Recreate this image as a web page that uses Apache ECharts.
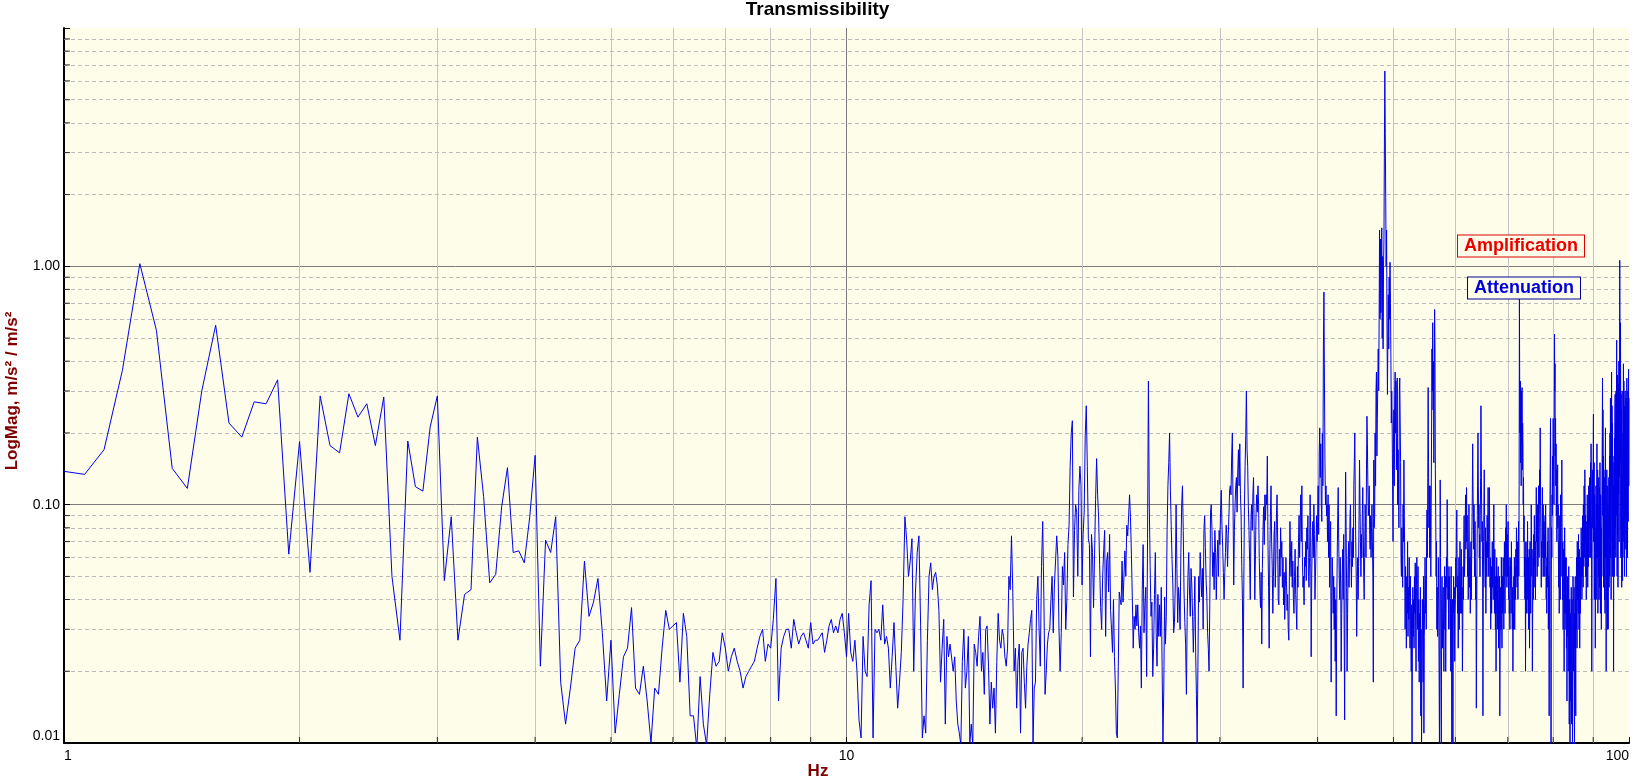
<!DOCTYPE html>
<html><head><meta charset="utf-8">
<script src="https://cdn.jsdelivr.net/npm/echarts@6/dist/echarts.min.js"></script>
<style>html,body{margin:0;padding:0;background:#fff}#chart{width:1635px;height:780px}</style>
</head><body><div id="chart"></div>
<script>
// ---------------- DATA ----------------
const TITLE = 'Transmissibility';
const X_NAME = 'Hz';
const Y_NAME = 'LogMag, m/s\u00b2 / m/s\u00b2';
const LEGEND_AMP = 'Amplification';
const LEGEND_ATT = 'Attenuation';
const X_MIN = 1, X_MAX = 100;
const Y_MIN = 0.01, Y_MAX = 10;
const MINOR_MULT = [2, 3, 4, 5, 6, 7, 8, 9];
const X_DECADES = [1, 10];
const Y_DECADES = [0.01, 0.1, 1];
const FREQ_STEP = 0.0625;   // spectral line spacing, Hz
// each row holds the magnitudes of one 1-Hz band, starting at its row start frequency
const ROW_START_1 = 1;
const mag1to10 = [
[0.138,0.134,0.170,0.366,1.026,0.539,0.142,0.117,0.300,0.566,0.220,0.192,0.270,0.265,0.334,0.062],
[0.184,0.052,0.286,0.177,0.165,0.292,0.233,0.265,0.177,0.283,0.050,0.027,0.185,0.119,0.114,0.212],
[0.286,0.048,0.089,0.027,0.042,0.044,0.192,0.108,0.047,0.051,0.098,0.143,0.063,0.064,0.057,0.089],
[0.161,0.021,0.071,0.063,0.089,0.018,0.012,0.017,0.025,0.027,0.058,0.034,0.039,0.049,0.029,0.015],
[0.027,0.011,0.016,0.023,0.025,0.037,0.017,0.016,0.021,0.015,0.010,0.017,0.016,0.025,0.036,0.030],
[0.031,0.032,0.018,0.035,0.028,0.013,0.013,0.0095,0.019,0.012,0.0098,0.016,0.024,0.021,0.022,0.029],
[0.025,0.020,0.023,0.025,0.022,0.020,0.017,0.019,0.020,0.021,0.022,0.025,0.028,0.030,0.022,0.026],
[0.025,0.033,0.049,0.015,0.025,0.028,0.030,0.030,0.025,0.033,0.029,0.026,0.028,0.029,0.027,0.025],
[0.032,0.026,0.027,0.027,0.028,0.029,0.024,0.027,0.031,0.033,0.029,0.031,0.029,0.033,0.035,0.029]
];
const ROW_START_2 = 10;
const mag10to35 = [
[0.023,0.035,0.024,0.022,0.027,0.020,0.0125,0.0105,0.028,0.020,0.019,0.038,0.048,0.0105,0.030,0.029],
[0.030,0.027,0.038,0.026,0.028,0.025,0.017,0.023,0.032,0.021,0.014,0.018,0.024,0.040,0.089,0.071],
[0.050,0.058,0.072,0.020,0.043,0.063,0.074,0.031,0.0105,0.013,0.011,0.027,0.050,0.057,0.044,0.050],
[0.052,0.046,0.036,0.018,0.025,0.033,0.012,0.028,0.023,0.026,0.026,0.020,0.023,0.015,0.012,0.011],
[0.0098,0.022,0.030,0.017,0.020,0.028,0.010,0.012,0.0098,0.026,0.024,0.021,0.028,0.034,0.020,0.024],
[0.016,0.030,0.031,0.021,0.012,0.018,0.014,0.017,0.011,0.022,0.035,0.027,0.025,0.030,0.028,0.023],
[0.021,0.025,0.050,0.044,0.074,0.043,0.020,0.025,0.014,0.022,0.026,0.011,0.024,0.025,0.018,0.014],
[0.021,0.026,0.029,0.033,0.036,0.0098,0.017,0.018,0.040,0.050,0.030,0.021,0.055,0.085,0.040,0.016],
[0.020,0.026,0.029,0.030,0.040,0.050,0.029,0.046,0.058,0.074,0.061,0.030,0.020,0.029,0.055,0.046],
[0.063,0.030,0.040,0.068,0.082,0.145,0.200,0.225,0.041,0.078,0.100,0.093,0.050,0.115,0.145,0.120],
[0.046,0.075,0.093,0.195,0.260,0.145,0.072,0.068,0.023,0.075,0.063,0.037,0.062,0.105,0.156,0.110],
[0.088,0.056,0.037,0.030,0.050,0.064,0.078,0.028,0.058,0.063,0.043,0.075,0.036,0.030,0.024,0.040],
[0.023,0.017,0.011,0.0105,0.021,0.043,0.040,0.038,0.058,0.039,0.050,0.064,0.050,0.082,0.074,0.090],
[0.110,0.088,0.062,0.041,0.025,0.034,0.030,0.038,0.031,0.038,0.029,0.025,0.031,0.017,0.044,0.068],
[0.029,0.038,0.045,0.019,0.072,0.330,0.100,0.055,0.034,0.039,0.019,0.025,0.042,0.063,0.029,0.021],
[0.042,0.028,0.038,0.028,0.045,0.021,0.010,0.017,0.041,0.026,0.034,0.078,0.120,0.150,0.200,0.115],
[0.082,0.059,0.046,0.029,0.032,0.046,0.100,0.054,0.032,0.045,0.040,0.030,0.063,0.100,0.120,0.078],
[0.043,0.032,0.026,0.016,0.034,0.050,0.063,0.043,0.034,0.054,0.046,0.034,0.024,0.034,0.050,0.024],
[0.016,0.010,0.021,0.050,0.039,0.063,0.050,0.041,0.054,0.030,0.078,0.090,0.066,0.048,0.041,0.029],
[0.025,0.020,0.038,0.093,0.100,0.078,0.050,0.063,0.044,0.078,0.063,0.040,0.058,0.071,0.050,0.078],
[0.068,0.093,0.115,0.082,0.067,0.052,0.040,0.052,0.063,0.082,0.074,0.055,0.074,0.090,0.115,0.120],
[0.110,0.160,0.200,0.100,0.046,0.078,0.100,0.120,0.130,0.093,0.140,0.170,0.120,0.180,0.110,0.090],
[0.055,0.040,0.017,0.043,0.098,0.145,0.195,0.300,0.170,0.145,0.098,0.078,0.057,0.040,0.086,0.100],
[0.078,0.110,0.130,0.078,0.040,0.062,0.093,0.110,0.093,0.120,0.100,0.060,0.044,0.037,0.052,0.026],
[0.054,0.078,0.098,0.068,0.110,0.086,0.110,0.100,0.160,0.070,0.045,0.025,0.060,0.090,0.120,0.070]
];
const ROW_START_3 = 35;
const mag35to100 = [
[0.055,0.035,0.050,0.075,0.085,0.045,0.060,0.090,0.110,0.070,0.040,0.038,0.065,0.050,0.080,0.060],
[0.070,0.045,0.060,0.038,0.052,0.033,0.045,0.060,0.048,0.036,0.042,0.030,0.027,0.050,0.085,0.060],
[0.050,0.070,0.045,0.058,0.040,0.035,0.050,0.065,0.042,0.036,0.030,0.055,0.045,0.070,0.090,0.060],
[0.085,0.110,0.070,0.120,0.060,0.045,0.050,0.038,0.060,0.055,0.070,0.048,0.080,0.065,0.090,0.050],
[0.045,0.060,0.110,0.080,0.023,0.050,0.070,0.085,0.060,0.100,0.075,0.040,0.050,0.065,0.090,0.070],
[0.085,0.120,0.075,0.160,0.210,0.130,0.180,0.100,0.085,0.200,0.120,0.450,0.780,0.330,0.150,0.100],
[0.120,0.090,0.100,0.070,0.110,0.060,0.100,0.045,0.070,0.085,0.018,0.040,0.060,0.050,0.035,0.050],
[0.030,0.045,0.022,0.040,0.013,0.035,0.060,0.090,0.118,0.070,0.050,0.040,0.060,0.045,0.020,0.035],
[0.050,0.065,0.040,0.075,0.030,0.0125,0.060,0.137,0.080,0.045,0.020,0.035,0.055,0.070,0.045,0.060],
[0.090,0.100,0.060,0.045,0.070,0.055,0.080,0.060,0.120,0.150,0.200,0.110,0.070,0.050,0.028,0.045],
[0.060,0.040,0.055,0.090,0.154,0.100,0.070,0.050,0.075,0.060,0.090,0.118,0.080,0.050,0.040,0.060],
[0.100,0.085,0.060,0.140,0.235,0.180,0.120,0.090,0.100,0.120,0.075,0.065,0.090,0.060,0.080,0.100],
[0.070,0.050,0.018,0.154,0.080,0.090,0.200,0.120,0.300,0.360,0.160,0.230,0.230,0.450,0.300,0.600],
[1.420,0.600,1.300,0.640,0.900,1.450,0.500,1.100,0.450,1.000,1.300,3.200,6.600,3.600,1.940,1.000],
[1.420,0.550,0.290,0.500,0.760,0.450,0.900,0.600,1.040,0.700,0.420,0.220,0.300,0.220,0.120,0.070],
[0.180,0.250,0.120,0.290,0.360,0.200,0.330,0.140,0.200,0.340,0.100,0.170,0.120,0.080,0.300,0.340],
[0.340,0.150,0.060,0.050,0.080,0.065,0.045,0.100,0.070,0.154,0.090,0.060,0.030,0.055,0.040,0.025],
[0.050,0.035,0.070,0.028,0.045,0.033,0.060,0.040,0.025,0.050,0.030,0.020,0.038,0.0098,0.030,0.045],
[0.028,0.040,0.025,0.050,0.035,0.057,0.030,0.020,0.045,0.060,0.040,0.030,0.055,0.022,0.040,0.018],
[0.035,0.025,0.045,0.013,0.030,0.0098,0.020,0.040,0.030,0.018,0.050,0.011,0.028,0.040,0.060,0.035],
[0.050,0.030,0.070,0.095,0.060,0.130,0.310,0.150,0.080,0.120,0.060,0.120,0.090,0.050,0.100,0.200],
[0.450,0.300,0.580,0.250,0.400,0.150,0.300,0.660,0.450,0.140,0.090,0.050,0.070,0.030,0.045,0.028],
[0.035,0.060,0.040,0.020,0.0098,0.030,0.127,0.060,0.020,0.0095,0.040,0.050,0.025,0.035,0.045,0.030],
[0.020,0.040,0.055,0.030,0.050,0.020,0.035,0.060,0.045,0.105,0.070,0.040,0.050,0.030,0.055,0.040],
[0.050,0.030,0.040,0.020,0.055,0.035,0.0095,0.025,0.040,0.0098,0.030,0.050,0.035,0.045,0.022,0.035],
[0.040,0.060,0.045,0.080,0.095,0.055,0.035,0.050,0.025,0.040,0.060,0.030,0.045,0.070,0.050,0.035],
[0.050,0.065,0.035,0.045,0.020,0.030,0.055,0.040,0.070,0.090,0.050,0.060,0.075,0.110,0.065,0.080],
[0.118,0.070,0.090,0.050,0.065,0.040,0.055,0.100,0.070,0.045,0.060,0.035,0.050,0.070,0.040,0.060],
[0.080,0.110,0.180,0.120,0.090,0.065,0.100,0.070,0.050,0.085,0.060,0.040,0.050,0.014,0.030,0.060],
[0.090,0.140,0.200,0.120,0.080,0.100,0.060,0.075,0.050,0.090,0.130,0.260,0.150,0.100,0.070,0.085],
[0.050,0.013,0.040,0.070,0.100,0.140,0.090,0.060,0.045,0.080,0.035,0.055,0.070,0.050,0.090,0.060],
[0.080,0.118,0.070,0.050,0.090,0.118,0.075,0.045,0.060,0.030,0.040,0.055,0.035,0.050,0.070,0.045],
[0.060,0.040,0.080,0.100,0.055,0.035,0.065,0.045,0.030,0.050,0.020,0.040,0.060,0.035,0.050,0.030],
[0.045,0.055,0.025,0.040,0.030,0.050,0.013,0.025,0.035,0.045,0.030,0.060,0.040,0.025,0.050,0.035],
[0.040,0.060,0.045,0.030,0.050,0.070,0.045,0.035,0.060,0.080,0.050,0.100,0.065,0.045,0.075,0.050],
[0.060,0.085,0.050,0.040,0.060,0.035,0.040,0.030,0.055,0.045,0.060,0.035,0.070,0.050,0.040,0.030],
[0.045,0.020,0.035,0.030,0.050,0.040,0.060,0.030,0.045,0.055,0.040,0.065,0.050,0.080,0.060,0.045],
[0.070,0.050,0.040,0.060,0.085,0.050,0.120,0.730,0.300,0.200,0.330,0.150,0.250,0.120,0.300,0.180],
[0.310,0.140,0.220,0.180,0.100,0.130,0.070,0.090,0.050,0.060,0.040,0.070,0.020,0.045,0.060,0.035],
[0.050,0.070,0.040,0.085,0.055,0.035,0.060,0.030,0.045,0.065,0.025,0.040,0.070,0.050,0.035,0.060],
[0.100,0.080,0.050,0.065,0.020,0.035,0.050,0.060,0.040,0.075,0.055,0.090,0.060,0.045,0.070,0.040],
[0.060,0.085,0.118,0.070,0.090,0.050,0.065,0.100,0.055,0.080,0.120,0.075,0.060,0.090,0.140,0.100],
[0.210,0.130,0.080,0.060,0.045,0.070,0.050,0.090,0.118,0.080,0.060,0.100,0.070,0.050,0.085,0.060],
[0.075,0.050,0.090,0.060,0.100,0.070,0.040,0.055,0.035,0.060,0.045,0.070,0.050,0.080,0.030,0.050],
[0.040,0.013,0.030,0.060,0.100,0.150,0.230,0.120,0.0095,0.050,0.080,0.060,0.110,0.090,0.160,0.120],
[0.230,0.140,0.180,0.100,0.200,0.520,0.300,0.390,0.160,0.230,0.120,0.180,0.090,0.140,0.070,0.100],
[0.120,0.147,0.080,0.100,0.060,0.045,0.070,0.035,0.050,0.090,0.060,0.040,0.110,0.070,0.050,0.080],
[0.100,0.154,0.090,0.060,0.040,0.070,0.030,0.050,0.065,0.045,0.020,0.040,0.080,0.055,0.035,0.060],
[0.045,0.030,0.060,0.025,0.040,0.015,0.035,0.050,0.028,0.045,0.020,0.035,0.055,0.030,0.012,0.025],
[0.040,0.0095,0.025,0.035,0.015,0.030,0.045,0.012,0.020,0.040,0.030,0.0098,0.025,0.050,0.035,0.020],
[0.030,0.045,0.015,0.0098,0.035,0.025,0.050,0.020,0.013,0.040,0.030,0.060,0.045,0.025,0.070,0.050],
[0.040,0.060,0.035,0.075,0.050,0.030,0.045,0.065,0.025,0.040,0.055,0.035,0.060,0.045,0.080,0.050],
[0.060,0.040,0.070,0.050,0.090,0.065,0.045,0.100,0.075,0.055,0.120,0.080,0.060,0.140,0.100,0.070],
[0.090,0.050,0.070,0.040,0.060,0.085,0.050,0.110,0.075,0.045,0.065,0.090,0.055,0.120,0.080,0.060],
[0.100,0.130,0.080,0.118,0.060,0.150,0.100,0.180,0.120,0.070,0.020,0.050,0.090,0.140,0.080,0.110],
[0.160,0.240,0.070,0.090,0.150,0.040,0.110,0.060,0.080,0.025,0.050,0.090,0.120,0.040,0.100,0.060],
[0.180,0.060,0.080,0.140,0.035,0.100,0.050,0.075,0.130,0.040,0.060,0.118,0.045,0.150,0.070,0.035],
[0.110,0.050,0.080,0.030,0.060,0.090,0.130,0.200,0.340,0.090,0.250,0.050,0.160,0.045,0.140,0.060],
[0.130,0.040,0.118,0.035,0.150,0.210,0.060,0.090,0.020,0.060,0.100,0.140,0.040,0.120,0.030,0.100],
[0.050,0.030,0.070,0.100,0.130,0.045,0.118,0.160,0.050,0.200,0.070,0.280,0.060,0.220,0.040,0.170],
[0.360,0.120,0.260,0.070,0.220,0.050,0.160,0.060,0.120,0.020,0.080,0.150,0.050,0.190,0.065,0.240],
[0.290,0.080,0.220,0.060,0.300,0.090,0.250,0.490,0.150,0.050,0.350,0.075,0.260,0.045,0.200,0.320],
[0.110,0.400,0.070,0.300,0.130,1.060,0.450,0.150,0.580,0.350,0.060,0.290,0.080,0.250,0.045,0.200],
[0.300,0.090,0.048,0.120,0.200,0.070,0.390,0.130,0.330,0.060,0.260,0.050,0.220,0.090,0.300,0.110],
[0.250,0.065,0.280,0.090,0.050,0.160,0.340,0.080,0.270,0.060,0.220,0.300,0.085,0.250,0.370,0.120],
[0.280]
];

// ---------------- BUILD ----------------
const FONT = 'Arial, "Liberation Sans", sans-serif';
const points = [];
function addRows(rows, startHz) {
  rows.forEach((row, r) => row.forEach((v, j) => points.push([startHz + r + j * FREQ_STEP, v])));
}
addRows(mag1to10, ROW_START_1);
addRows(mag10to35, ROW_START_2);
addRows(mag35to100, ROW_START_3);

const xMinor = [], yMinor = [];
X_DECADES.forEach(d => MINOR_MULT.forEach(m => xMinor.push(+(d * m).toPrecision(6))));
Y_DECADES.forEach(d => MINOR_MULT.forEach(m => yMinor.push(+(d * m).toPrecision(6))));

const chart = echarts.init(document.getElementById('chart'), null, {renderer: 'canvas'});
chart.setOption({
  animation: false,
  backgroundColor: '#ffffff',
  title: {
    text: TITLE, left: 'center', top: 0, padding: 0,
    textStyle: {fontFamily: FONT, fontSize: 19, fontWeight: 'bold', color: '#000'}
  },
  grid: {
    left: 64, right: 6, top: 28, bottom: 37,
    show: true, backgroundColor: '#fdfde9', borderWidth: 0
  },
  xAxis: {
    type: 'log', logBase: 10, min: X_MIN, max: X_MAX,
    axisLine: {show: true, onZero: false, lineStyle: {color: '#000', width: 2}},
    axisTick: {show: true, inside: true, length: 6, lineStyle: {color: '#000', width: 1}},
    axisLabel: {
      color: '#000', fontFamily: FONT, fontSize: 14, margin: 6,
      alignMinLabel: 'left', alignMaxLabel: 'right',
      formatter: v => String(Math.round(v))
    },
    splitLine: {show: true, showMinLine: false, showMaxLine: false, lineStyle: {color: '#7c7c7c', width: 1}}
  },
  yAxis: {
    type: 'log', logBase: 10, min: Y_MIN, max: Y_MAX,
    axisLine: {show: true, lineStyle: {color: '#000', width: 2}},
    axisTick: {show: true, inside: true, length: 6, lineStyle: {color: '#000', width: 1}},
    axisLabel: {
      color: '#000', fontFamily: FONT, fontSize: 14, margin: 4,
      verticalAlignMinLabel: 'bottom',
      formatter: v => (v >= 9.99 ? '' : v.toFixed(2))
    },
    splitLine: {show: true, showMinLine: false, showMaxLine: false, lineStyle: {color: '#7c7c7c', width: 1}}
  },
  series: [
    {
      type: 'scatter', silent: true, z: 4, symbol: 'rect', symbolSize: [6, 1], symbolOffset: [3, 0],
      itemStyle: {color: '#000'},
      data: yMinor.map(v => [X_MIN, v]),
      markLine: {
        silent: true, symbol: 'none', z: 1, animation: false, label: {show: false},
        emphasis: {disabled: true},
        data: xMinor.map(v => ({xAxis: v, lineStyle: {color: '#c4c4c4', type: 'solid', width: 1}}))
          .concat(yMinor.map(v => ({yAxis: v, lineStyle: {color: '#bcbcbc', type: [4, 3], width: 1}})))
      }
    },
    {
      type: 'scatter', silent: true, z: 4, symbol: 'rect', symbolSize: [1, 6], symbolOffset: [0, -3],
      itemStyle: {color: '#000'},
      data: xMinor.map(v => [v, Y_MIN])
    },
    {
      type: 'line', silent: true, z: 3, data: points, showSymbol: false, symbol: 'none',
      clip: true, lineStyle: {color: '#0000e8', width: 1}
    }
  ],
  graphic: [
    {type: 'text', x: 12, y: 391, rotation: Math.PI / 2, silent: true,
     style: {text: Y_NAME, fill: '#800000', font: 'bold 17px ' + FONT, align: 'center', verticalAlign: 'middle'}},
    {type: 'text', x: 818, y: 771, silent: true,
     style: {text: X_NAME, fill: '#800000', font: 'bold 17px ' + FONT, align: 'center', verticalAlign: 'middle'}},
    {type: 'text', x: 1521, y: 246, silent: true, z: 10,
     style: {text: LEGEND_AMP, fill: '#ee0000', font: 'bold 18px ' + FONT, align: 'center', verticalAlign: 'middle',
             backgroundColor: '#fdfde9', borderColor: '#dd0000', borderWidth: 1, padding: [2, 6, 1, 6]}},
    {type: 'text', x: 1524, y: 288, silent: true, z: 10,
     style: {text: LEGEND_ATT, fill: '#0000dd', font: 'bold 18px ' + FONT, align: 'center', verticalAlign: 'middle',
             backgroundColor: '#fdfde9', borderColor: '#00009a', borderWidth: 1, padding: [2, 6, 1, 6]}}
  ]
});
</script></body></html>
